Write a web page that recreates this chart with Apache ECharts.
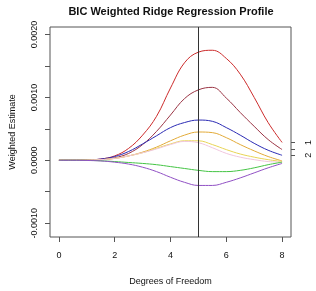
<!DOCTYPE html>
<html>
<head>
<meta charset="utf-8">
<script src="https://cdn.jsdelivr.net/npm/echarts@6/dist/echarts.min.js"></script>
<style>
html, body { margin: 0; padding: 0; background: #fff; }
#main { width: 316px; height: 291px; }
</style>
</head>
<body>
<div id="main"></div>
<script>
// degrees of freedom (x) and the weighted estimates of each coefficient path
var df = [0, 0.5, 1, 1.5, 2, 2.5, 3, 3.5, 4, 4.5, 5, 5.5, 6, 6.5, 7, 7.5, 8];
var red    = [0, 0, 0.000005, 0.00002, 0.00007, 0.00019, 0.0004, 0.0007, 0.00115, 0.00155, 0.00172, 0.00175, 0.00162, 0.00137, 0.001, 0.0006, 0.000284];
var brown  = [0, 0, 0.000003, 0.00001, 0.00004, 0.00011, 0.00025, 0.00046, 0.00072, 0.00098, 0.00112, 0.00116, 0.00099, 0.00076, 0.00054, 0.00033, 0.000171];
var blue   = [0, 0, 0.000005, 0.00002, 0.00006, 0.00014, 0.00026, 0.00039, 0.00052, 0.0006, 0.00064, 0.00062, 0.00052, 0.0004, 0.00027, 0.00016, 0.00008];
var gold   = [0, 0, 0.000003, 0.00001, 0.00003, 0.00007, 0.00013, 0.00021, 0.00031, 0.0004, 0.00045, 0.00044, 0.00036, 0.00025, 0.00015, 0.00006, -0.00001];
var yellow = [0, 0, 0.000003, 0.00001, 0.00003, 0.00007, 0.00012, 0.00019, 0.00026, 0.00031, 0.00031, 0.00025, 0.00017, 0.0001, 0.00005, 0.00001, -0.00002];
var pink   = [0, 0, 0.000003, 0.00001, 0.00003, 0.00007, 0.00012, 0.00018, 0.00025, 0.0003, 0.00028, 0.0002, 0.00011, 0.00005, 0.00001, -0.00002, -0.00003];
var green  = [0, 0, -0.000002, -0.000008, -0.00002, -0.000035, -0.00005, -0.00007, -0.0001, -0.00013, -0.00016, -0.00018, -0.00018, -0.00016, -0.00012, -0.00007, -0.00003];
var purple = [0, 0, -0.000003, -0.00001, -0.00003, -0.00006, -0.00011, -0.00018, -0.00027, -0.00035, -0.0004, -0.0004, -0.00035, -0.00028, -0.0002, -0.00012, -0.00005];

var chosenDf = 5;
var xTicks = [0, 2, 4, 6, 8];
var yTicks = [-0.001, -0.0005, 0, 0.0005, 0.001, 0.0015, 0.002];
var yLabels = [-0.001, 0, 0.001, 0.002];
var endTicks = [0.000284, 0.000171, 0.00008];
var endLabels = ['1', '', '2'];

var myChart = echarts.init(document.getElementById('main'));

function path(vals, color) {
  return {
    type: 'line',
    data: df.map(function (x, i) { return [x, vals[i]]; }),
    smooth: 0.4,
    showSymbol: false,
    silent: true,
    lineStyle: { width: 1, color: color }
  };
}

var series = [
  path(red, '#cc2b2b'),
  path(brown, '#9a3444'),
  path(blue, '#2b2bb4'),
  path(gold, '#e2aa38'),
  path(yellow, '#e8d455'),
  path(pink, '#f0c6de'),
  path(green, '#44c444'),
  path(purple, '#9050c4')
];
// vertical line at the chosen degrees of freedom
series[0].markLine = {
  silent: true,
  symbol: ['none', 'none'],
  label: { show: false },
  lineStyle: { color: '#333', type: 'solid', width: 1 },
  data: [{ xAxis: chosenDf }]
};

var txt = { color: '#111', fontFamily: 'Liberation Sans, Arial, sans-serif' };

var option = {
  animation: false,
  title: {
    text: 'BIC Weighted Ridge Regression Profile',
    left: 166,
    textAlign: 'center',
    top: 1,
    textStyle: { fontSize: 11, fontWeight: 'bold', color: '#111', fontFamily: 'Liberation Sans, Arial, sans-serif' }
  },
  grid: {
    left: 41, top: 27, width: 250, height: 216,
    show: true, borderColor: '#555', borderWidth: 1, backgroundColor: 'transparent'
  },
  xAxis: {
    type: 'value',
    min: -0.32,
    max: 8.32,
    name: 'Degrees of Freedom',
    nameLocation: 'middle',
    nameGap: 40,
    nameTextStyle: Object.assign({ fontSize: 9 }, txt),
    axisLine: { show: false, onZero: false },
    splitLine: { show: false },
    axisTick: { show: true, length: 5, customValues: xTicks, lineStyle: { color: '#555' } },
    axisLabel: Object.assign({ fontSize: 9, margin: 14, customValues: xTicks }, txt)
  },
  yAxis: [{
    type: 'value',
    min: -0.00122,
    max: 0.00212,
    name: 'Weighted Estimate',
    nameLocation: 'middle',
    nameGap: 33,
    nameTextStyle: Object.assign({ fontSize: 9 }, txt),
    axisLine: { show: false, onZero: false },
    splitLine: { show: false },
    axisTick: { show: true, length: 5, customValues: yTicks, lineStyle: { color: '#555' } },
    axisLabel: Object.assign({
      fontSize: 9, margin: 11, rotate: 90, customValues: yLabels,
      formatter: function (v) { return v.toFixed(4); }
    }, txt)
  }, {
    type: 'value',
    position: 'right',
    min: -0.00122,
    max: 0.00212,
    axisLine: { show: false, onZero: false },
    splitLine: { show: false },
    axisTick: { show: true, length: 4, customValues: endTicks, lineStyle: { color: '#555' } },
    axisLabel: Object.assign({
      fontSize: 9, margin: 13, rotate: 90, customValues: endTicks,
      formatter: function (v) {
        var i = endTicks.indexOf(v);
        return i >= 0 ? endLabels[i] : '';
      }
    }, txt)
  }],
  series: series
};

myChart.setOption(option);
</script>
</body>
</html>
